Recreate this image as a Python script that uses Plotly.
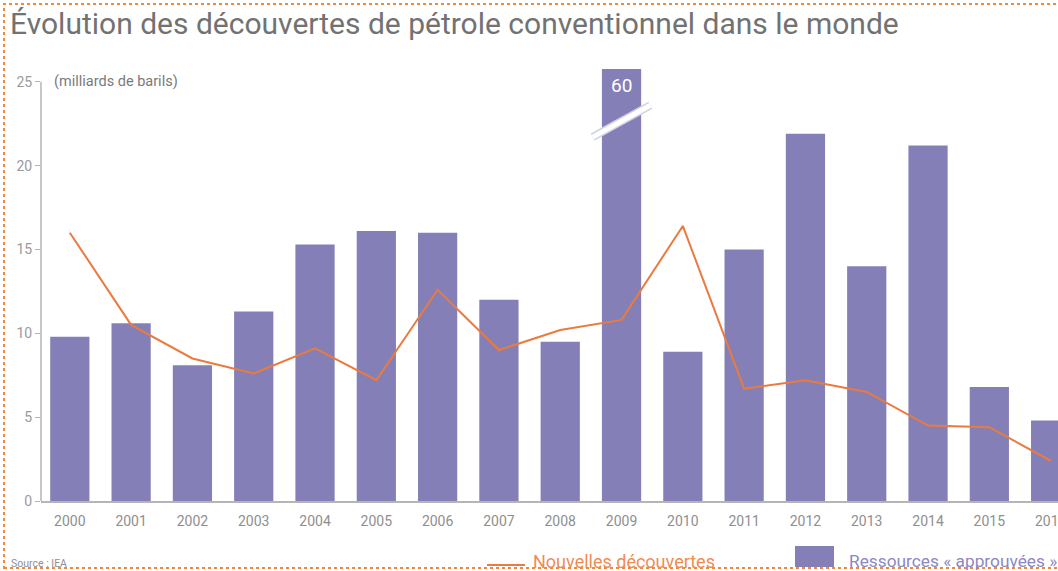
import plotly.graph_objects as go

years = ["2000", "2001", "2002", "2003", "2004", "2005", "2006", "2007", "2008",
         "2009", "2010", "2011", "2012", "2013", "2014", "2015", "2016"]
ressources = [9.8, 10.6, 8.1, 11.3, 15.3, 16.1, 16.0, 12.0, 9.5,
              60, 8.9, 15.0, 21.9, 14.0, 21.2, 6.8, 4.8]
nouvelles = [16.0, 10.5, 8.5, 7.6, 9.1, 7.2, 12.6, 9.0, 10.2,
             10.8, 16.4, 6.7, 7.2, 6.5, 4.5, 4.4, 2.4]
y_ticks = [0, 5, 10, 15, 20, 25]

title = "Évolution des découvertes de pétrole conventionnel dans le monde"
unit = "(milliards de barils)"
source = "Source : IEA"
name_line = "Nouvelles découvertes"
name_bar = "Ressources « approuvées »"

BAR = "#8480b7"
ORANGE = "#ea7a3f"
GRAY = "#8f8f8f"
FONT = "Roboto, Arial, sans-serif"

W, H = 1058, 571
ML, MR, MT, MB = 41, 0, 69, 70
pw, ph = W - ML - MR, H - MT - MB

def px(x):
    return (x - ML) / pw

def py(y):
    return (H - MB - y) / ph

x_idx = list(range(len(years)))
ymax = 25.76

fig = go.Figure()
fig.add_trace(go.Bar(x=x_idx, y=ressources, marker_color=BAR, marker_line_width=0,
                     name=name_bar, showlegend=False))
fig.add_trace(go.Scatter(x=x_idx, y=nouvelles, mode="lines",
                         line=dict(color=ORANGE, width=2), name=name_line,
                         showlegend=False, cliponaxis=False))

# clipped bar (2009) value label and break mark
big = max(range(len(ressources)), key=lambda i: ressources[i])
fig.add_annotation(x=big, y=24.75, text=str(ressources[big]), showarrow=False,
                   font=dict(family=FONT, size=19, color="white"))
fig.add_shape(type="line", x0=big - 0.47, x1=big + 0.47, y0=21.7, y1=23.6,
              line=dict(color="#d2d0e6", width=8), layer="above")
fig.add_shape(type="line", x0=big - 0.47, x1=big + 0.47, y0=21.7, y1=23.6,
              line=dict(color="white", width=5), layer="above")

# y axis line from 0 to 25
fig.add_shape(type="line", xref="paper", yref="y", x0=0, x1=0, y0=0, y1=y_ticks[-1],
              line=dict(color="#b5b5b5", width=1.5))

fig.update_layout(
    width=W, height=H,
    margin=dict(l=ML, r=MR, t=MT, b=MB, autoexpand=False),
    plot_bgcolor="white", paper_bgcolor="white",
    bargap=0.36,
    title=dict(text=title, x=10 / W, xanchor="left", xref="container",
               y=1 - 23 / H, yanchor="middle", yref="container",
               font=dict(family=FONT, size=30, color="#727272")),
    xaxis=dict(range=[-0.47, 16.12], tickmode="array", tickvals=x_idx, ticktext=years,
               showline=True, linecolor="#b5b5b5", linewidth=1.5, showgrid=False,
               zeroline=False, ticks="", ticklabelstandoff=6,
               ticklabeloverflow="allow", automargin=False,
               tickfont=dict(family=FONT, size=14, color=GRAY)),
    yaxis=dict(range=[0, ymax], tickvals=y_ticks, showgrid=False, zeroline=False,
               showline=False, ticks="outside", ticklen=5, tickcolor="#b5b5b5",
               tickwidth=1, automargin=False,
               tickfont=dict(family=FONT, size=14, color="#9a9a9a")),
    font=dict(family=FONT),
)

fig.add_annotation(xref="paper", yref="y", x=px(52), y=y_ticks[-1], xanchor="left",
                   yanchor="middle", text=unit, showarrow=False,
                   font=dict(family=FONT, size=14.5, color="#7a7a7a"))

# source
fig.add_annotation(xref="paper", yref="paper", x=px(9), y=py(563), xanchor="left",
                   yanchor="middle", text=source, showarrow=False,
                   font=dict(family=FONT, size=10.5, color="#909090"))

# custom legend
fig.add_shape(type="line", xref="paper", yref="paper", x0=px(487), x1=px(525),
              y0=py(565), y1=py(565), line=dict(color=ORANGE, width=2))
fig.add_annotation(xref="paper", yref="paper", x=px(531), y=py(561), xanchor="left",
                   yanchor="middle", text=name_line, showarrow=False,
                   font=dict(family=FONT, size=18, color="#ef8c55"))
fig.add_shape(type="rect", xref="paper", yref="paper", x0=px(795), x1=px(834),
              y0=py(546), y1=py(567), fillcolor=BAR, line_width=0)
fig.add_annotation(xref="paper", yref="paper", x=px(847), y=py(561), xanchor="left",
                   yanchor="middle", text=name_bar, showarrow=False,
                   font=dict(family=FONT, size=17.3, color="#8c88c2"))

# dotted orange frame
fig.add_shape(type="rect", xref="paper", yref="paper", x0=px(4), x1=px(1070),
              y0=py(568), y1=py(4), line=dict(color="#f0883a", width=2, dash="dot"),
              fillcolor="rgba(0,0,0,0)", layer="above")

fig.write_html("out.html", config={"displayModeBar": False},
               post_script="document.body.style.margin='0';document.body.style.overflow='hidden';")
